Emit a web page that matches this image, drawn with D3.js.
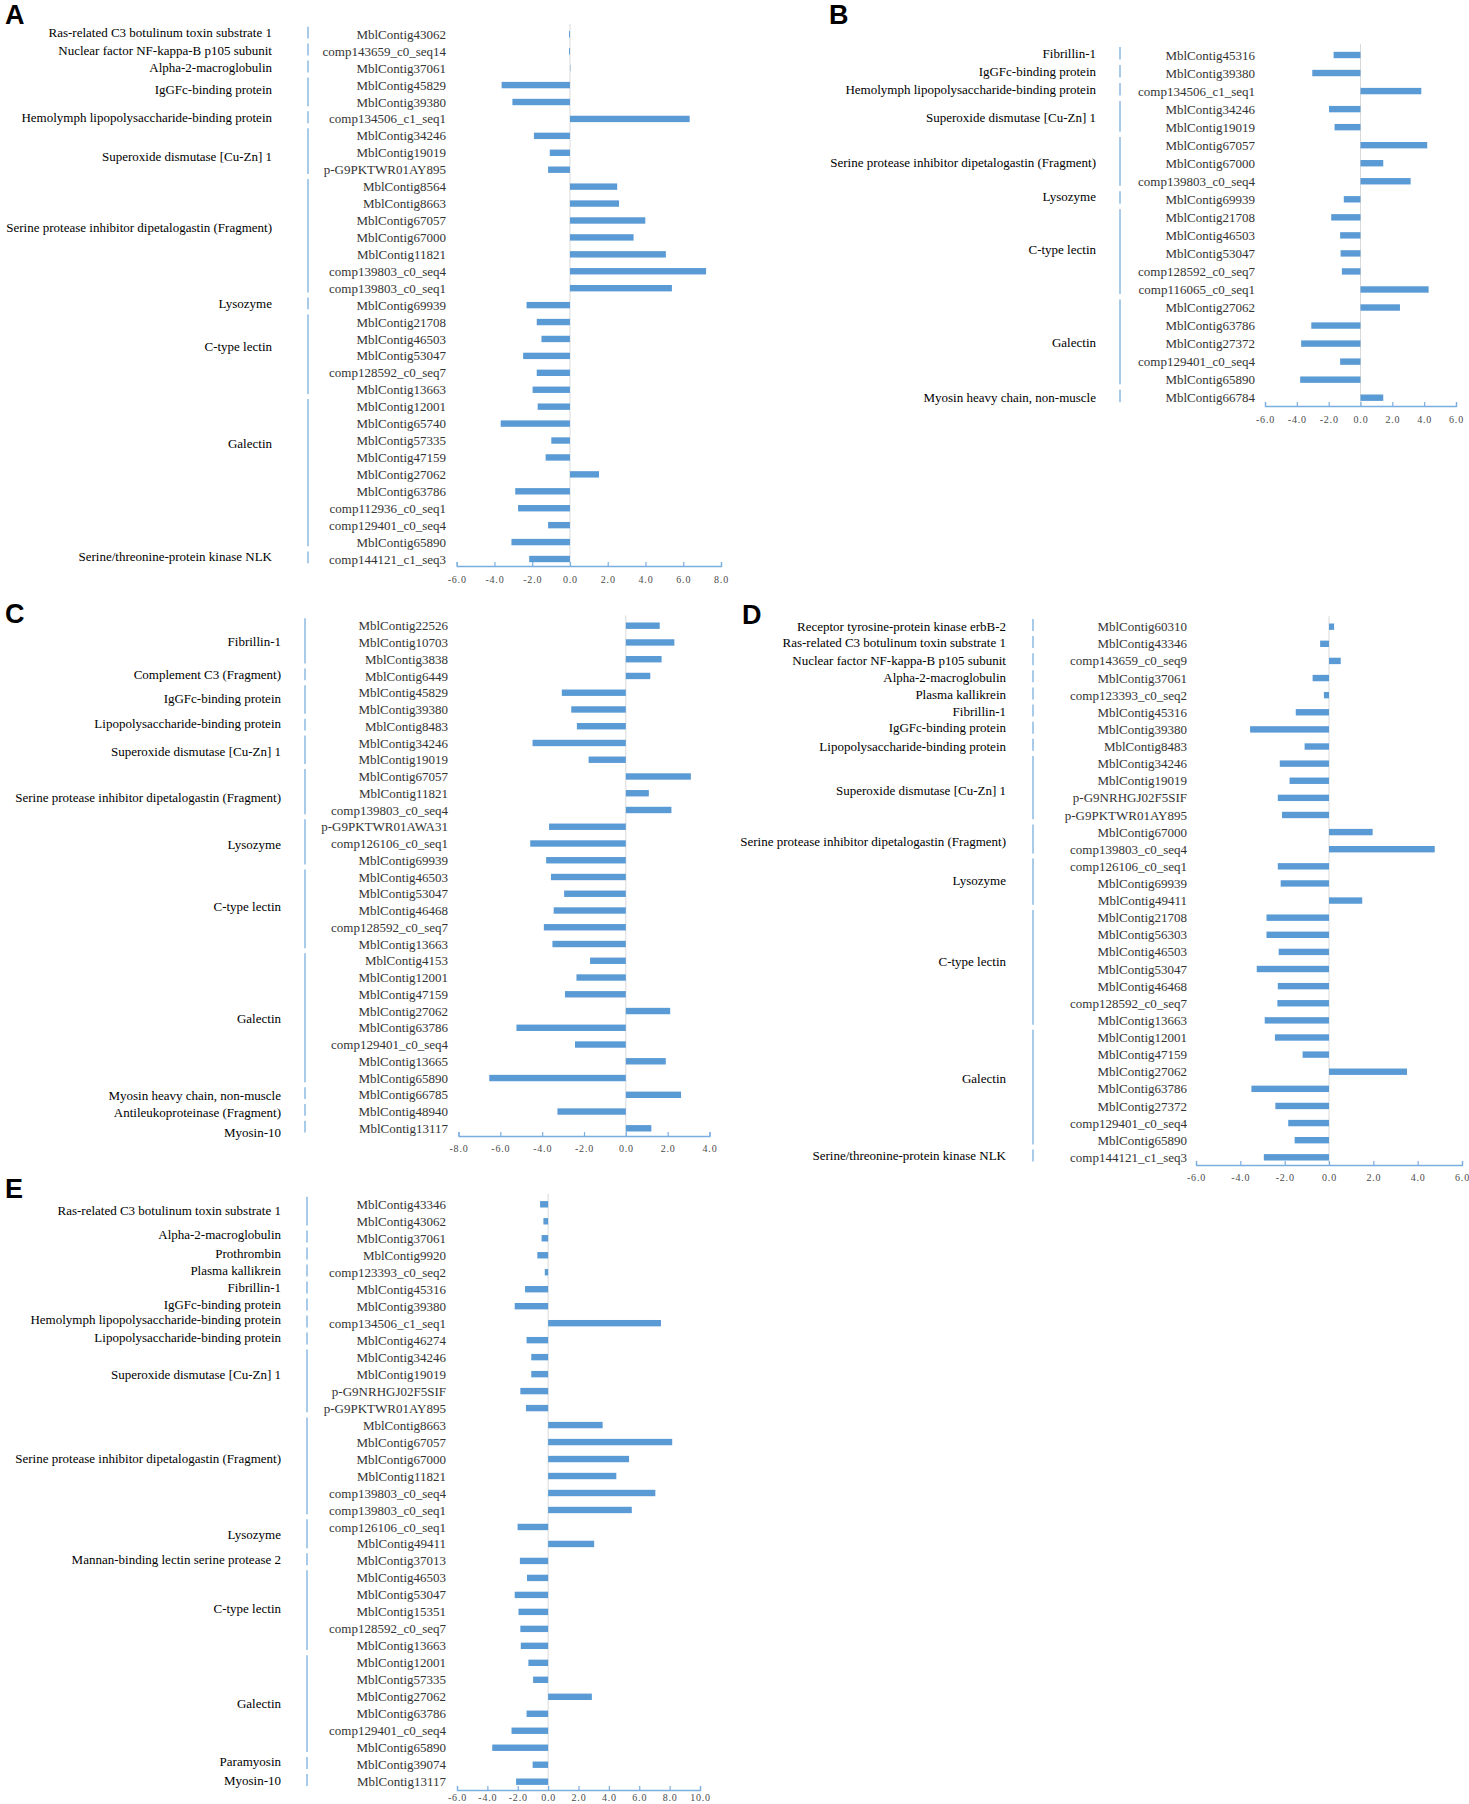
<!DOCTYPE html>
<html>
<head>
<meta charset="utf-8">
<script src="https://cdn.jsdelivr.net/npm/d3@7"></script>
<style>
  body { margin: 0; background: #fff; }
  text { font-family: "Liberation Serif", "Times New Roman", serif; }
  .letter { font-family: "Liberation Sans", Arial, sans-serif; font-weight: bold; }
</style>
</head>
<body>
<div id="chart"></div>
<script>
// ---- panel A data ----
var aCategories = ["Ras-related C3 botulinum toxin substrate 1", "Nuclear factor NF-kappa-B p105 subunit",
  "Alpha-2-macroglobulin", "IgGFc-binding protein", "Hemolymph lipopolysaccharide-binding protein",
  "Superoxide dismutase [Cu-Zn] 1", "Serine protease inhibitor dipetalogastin (Fragment)", "Lysozyme",
  "C-type lectin", "Galectin", "Serine/threonine-protein kinase NLK"];
var aGroupSizes = [1, 1, 1, 2, 1, 3, 7, 1, 5, 9, 1];
var aGenes = ["MblContig43062", "comp143659_c0_seq14", "MblContig37061", "MblContig45829", "MblContig39380",
  "comp134506_c1_seq1", "MblContig34246", "MblContig19019", "p-G9PKTWR01AY895", "MblContig8564",
  "MblContig8663", "MblContig67057", "MblContig67000", "MblContig11821", "comp139803_c0_seq4",
  "comp139803_c0_seq1", "MblContig69939", "MblContig21708", "MblContig46503", "MblContig53047",
  "comp128592_c0_seq7", "MblContig13663", "MblContig12001", "MblContig65740", "MblContig57335",
  "MblContig47159", "MblContig27062", "MblContig63786", "comp112936_c0_seq1", "comp129401_c0_seq4",
  "MblContig65890", "comp144121_c1_seq3"];
var aValues = [-0.05, -0.05, 0.02, -3.62, -3.05, 6.34, -1.91, -1.07, -1.16, 2.50, 2.60, 3.99, 3.37, 5.08,
  7.21, 5.40, -2.30, -1.76, -1.51, -2.48, -1.76, -1.98, -1.71, -3.67, -0.99, -1.29, 1.54, -2.90, -2.75,
  -1.16, -3.10, -2.16];
var aTicks = [-6, -4, -2, 0, 2, 4, 6, 8];

// ---- panel B data ----
var bCategories = ["Fibrillin-1", "IgGFc-binding protein", "Hemolymph lipopolysaccharide-binding protein",
  "Superoxide dismutase [Cu-Zn] 1", "Serine protease inhibitor dipetalogastin (Fragment)", "Lysozyme",
  "C-type lectin", "Galectin", "Myosin heavy chain, non-muscle"];
var bGroupSizes = [1, 1, 1, 2, 3, 1, 5, 5, 1];
var bGenes = ["MblContig45316", "MblContig39380", "comp134506_c1_seq1", "MblContig34246", "MblContig19019",
  "MblContig67057", "MblContig67000", "comp139803_c0_seq4", "MblContig69939", "MblContig21708",
  "MblContig46503", "MblContig53047", "comp128592_c0_seq7", "comp116065_c0_seq1", "MblContig27062",
  "MblContig63786", "MblContig27372", "comp129401_c0_seq4", "MblContig65890", "MblContig66784"];
var bValues = [-1.69, -3.03, 3.82, -1.98, -1.63, 4.19, 1.43, 3.15, -1.05, -1.84, -1.28, -1.25, -1.17,
  4.28, 2.48, -3.09, -3.73, -1.28, -3.79, 1.43];
var bTicks = [-6, -4, -2, 0, 2, 4, 6];

// ---- panel C data ----
var cCategories = ["Fibrillin-1", "Complement C3 (Fragment)", "IgGFc-binding protein",
  "Lipopolysaccharide-binding protein", "Superoxide dismutase [Cu-Zn] 1",
  "Serine protease inhibitor dipetalogastin (Fragment)", "Lysozyme", "C-type lectin", "Galectin",
  "Myosin heavy chain, non-muscle", "Antileukoproteinase (Fragment)", "Myosin-10"];
var cGroupSizes = [3, 1, 2, 1, 2, 3, 3, 5, 8, 1, 1, 1];
var cGenes = ["MblContig22526", "MblContig10703", "MblContig3838", "MblContig6449", "MblContig45829",
  "MblContig39380", "MblContig8483", "MblContig34246", "MblContig19019", "MblContig67057",
  "MblContig11821", "comp139803_c0_seq4", "p-G9PKTWR01AWA31", "comp126106_c0_seq1", "MblContig69939",
  "MblContig46503", "MblContig53047", "MblContig46468", "comp128592_c0_seq7", "MblContig13663",
  "MblContig4153", "MblContig12001", "MblContig47159", "MblContig27062", "MblContig63786",
  "comp129401_c0_seq4", "MblContig13665", "MblContig65890", "MblContig66785", "MblContig48940",
  "MblContig13117"];
var cValues = [1.62, 2.32, 1.71, 1.17, -3.06, -2.61, -2.34, -4.46, -1.78, 3.11, 1.10, 2.18, -3.67, -4.57,
  -3.81, -3.58, -2.95, -3.45, -3.92, -3.51, -1.71, -2.36, -2.91, 2.12, -5.23, -2.43, 1.91, -6.53, 2.64,
  -3.27, 1.22];
var cTicks = [-8, -6, -4, -2, 0, 2, 4];

// ---- panel D data ----
var dCategories = ["Receptor tyrosine-protein kinase erbB-2", "Ras-related C3 botulinum toxin substrate 1",
  "Nuclear factor NF-kappa-B p105 subunit", "Alpha-2-macroglobulin", "Plasma kallikrein", "Fibrillin-1",
  "IgGFc-binding protein", "Lipopolysaccharide-binding protein", "Superoxide dismutase [Cu-Zn] 1",
  "Serine protease inhibitor dipetalogastin (Fragment)", "Lysozyme", "C-type lectin", "Galectin",
  "Serine/threonine-protein kinase NLK"];
var dGroupSizes = [1, 1, 1, 1, 1, 1, 1, 1, 4, 2, 3, 7, 7, 1];
var dGenes = ["MblContig60310", "MblContig43346", "comp143659_c0_seq9", "MblContig37061",
  "comp123393_c0_seq2", "MblContig45316", "MblContig39380", "MblContig8483", "MblContig34246",
  "MblContig19019", "p-G9NRHGJ02F5SIF", "p-G9PKTWR01AY895", "MblContig67000", "comp139803_c0_seq4",
  "comp126106_c0_seq1", "MblContig69939", "MblContig49411", "MblContig21708", "MblContig56303",
  "MblContig46503", "MblContig53047", "MblContig46468", "comp128592_c0_seq7", "MblContig13663",
  "MblContig12001", "MblContig47159", "MblContig27062", "MblContig63786", "MblContig27372",
  "comp129401_c0_seq4", "MblContig65890", "comp144121_c1_seq3"];
var dValues = [0.23, -0.40, 0.53, -0.74, -0.23, -1.50, -3.56, -1.10, -2.22, -1.78, -2.31, -2.12, 1.97,
  4.77, -2.31, -2.18, 1.50, -2.82, -2.82, -2.27, -3.26, -2.31, -2.33, -2.90, -2.44, -1.19, 3.52, -3.50,
  -2.42, -1.84, -1.55, -2.94];
var dTicks = [-6, -4, -2, 0, 2, 4, 6];

// ---- panel E data ----
var eCategories = ["Ras-related C3 botulinum toxin substrate 1", "Alpha-2-macroglobulin", "Prothrombin",
  "Plasma kallikrein", "Fibrillin-1", "IgGFc-binding protein", "Hemolymph lipopolysaccharide-binding protein",
  "Lipopolysaccharide-binding protein", "Superoxide dismutase [Cu-Zn] 1",
  "Serine protease inhibitor dipetalogastin (Fragment)", "Lysozyme", "Mannan-binding lectin serine protease 2",
  "C-type lectin", "Galectin", "Paramyosin", "Myosin-10"];
var eGroupSizes = [2, 1, 1, 1, 1, 1, 1, 1, 4, 6, 2, 1, 5, 6, 1, 1];
var eGenes = ["MblContig43346", "MblContig43062", "MblContig37061", "MblContig9920", "comp123393_c0_seq2",
  "MblContig45316", "MblContig39380", "comp134506_c1_seq1", "MblContig46274", "MblContig34246",
  "MblContig19019", "p-G9NRHGJ02F5SIF", "p-G9PKTWR01AY895", "MblContig8663", "MblContig67057",
  "MblContig67000", "MblContig11821", "comp139803_c0_seq4", "comp139803_c0_seq1", "comp126106_c0_seq1",
  "MblContig49411", "MblContig37013", "MblContig46503", "MblContig53047", "MblContig15351",
  "comp128592_c0_seq7", "MblContig13663", "MblContig12001", "MblContig57335", "MblContig27062",
  "MblContig63786", "comp129401_c0_seq4", "MblContig65890", "MblContig39074", "MblContig13117"];
var eValues = [-0.53, -0.31, -0.43, -0.71, -0.22, -1.52, -2.20, 7.43, -1.42, -1.11, -1.11, -1.83, -1.46,
  3.59, 8.17, 5.33, 4.49, 7.06, 5.51, -2.01, 3.03, -1.86, -1.39, -2.20, -1.95, -1.83, -1.80, -1.30,
  -0.99, 2.88, -1.42, -2.41, -3.68, -1.02, -2.11];
var eTicks = [-6, -4, -2, 0, 2, 4, 6, 8, 10];

// colours
var barColor = "#5b9bd5";
var sepColor = "#6fa8dc";
var axisColor = "#7aaee0";

var width = 1469, height = 1804;

var svg = d3.select("#chart").append("svg")
  .attr("width", width)
  .attr("height", height);

// layout of each panel (pixel positions on the page); nudge = small vertical shifts of group labels
var panels = [
  { letter: "A", lx: 5, ly: 24, cats: aCategories, sizes: aGroupSizes, genes: aGenes, values: aValues, ticks: aTicks,
    catRight: 272, sepX: 308, geneRight: 446, xRange: [456.7, 721], top: 34.3, bottom: 559, axisY: 566, pad: 10,
    nudge: [0, 1, 1, -2, 1, 6, -8, 0, -7, -29, -1] },
  { letter: "B", lx: 829, ly: 24, cats: bCategories, sizes: bGroupSizes, genes: bGenes, values: bValues, ticks: bTicks,
    catRight: 1096, sepX: 1120, geneRight: 1255, xRange: [1265, 1456], top: 55, bottom: 397.7, axisY: 406, pad: 10,
    nudge: [0, 0, 0, 1, 1, -1, -2, 1, 2] },
  { letter: "C", lx: 5, ly: 623, cats: cCategories, sizes: cGroupSizes, genes: cGenes, values: cValues, ticks: cTicks,
    catRight: 281, sepX: 305, geneRight: 448, xRange: [458.5, 709.5], top: 625.7, bottom: 1128.3, axisY: 1136, pad: 9,
    nudge: [1, 0, -1, -1, 2, 6, 3, -2, 1, 3, 3, 6] },
  { letter: "D", lx: 742, ly: 624, cats: dCategories, sizes: dGroupSizes, genes: dGenes, values: dValues, ticks: dTicks,
    catRight: 1006, sepX: 1033, geneRight: 1187, xRange: [1196, 1462], top: 626.7, bottom: 1157.3, axisY: 1165, pad: 9,
    nudge: [2, 1, 2, 1, 1, 1, 0, 2, 3, 3, -1, -6, -8, 0] },
  { letter: "E", lx: 5, ly: 1198, cats: eCategories, sizes: eGroupSizes, genes: eGenes, values: eValues, ticks: eTicks,
    catRight: 281, sepX: 307, geneRight: 446, xRange: [457, 700], top: 1204.3, bottom: 1781.7, axisY: 1790, pad: 4,
    nudge: [0, -2, 0, 0, 0, 0, -2, -1, -6, -7, 1, 1, -1, 0, -1, 1] }
];

panels.forEach(function(p) {
  var n = p.genes.length;
  var step = (p.bottom - p.top) / (n - 1);
  var idx = d3.range(n);

  var x = d3.scaleLinear()
    .domain([p.ticks[0], p.ticks[p.ticks.length - 1]])
    .range(p.xRange);

  var y = d3.scaleBand()
    .domain(idx)
    .range([p.top - step / 2, p.bottom + step / 2]);
  var cy = function(i) { return y(i) + y.bandwidth() / 2; };

  var g = svg.append("g");

  // panel letter
  g.append("text")
    .attr("class", "letter")
    .attr("x", p.lx)
    .attr("y", p.ly)
    .attr("font-size", 27)
    .text(p.letter);

  // light zero line
  g.append("line")
    .attr("x1", x(0)).attr("x2", x(0))
    .attr("y1", y(0) - 2).attr("y2", p.axisY)
    .attr("stroke", "#d9d9d9")
    .attr("stroke-width", 1);

  // bars
  g.selectAll(".bar")
    .data(idx)
    .enter().append("rect")
    .attr("class", "bar")
    .attr("x", function(i) { return x(Math.min(0, p.values[i])); })
    .attr("width", function(i) { return Math.abs(x(p.values[i]) - x(0)); })
    .attr("y", function(i) { return cy(i) - 3.2; })
    .attr("height", 6.4)
    .attr("fill", barColor);

  // gene labels
  g.selectAll(".gene")
    .data(idx)
    .enter().append("text")
    .attr("class", "gene")
    .attr("x", p.geneRight)
    .attr("y", function(i) { return cy(i); })
    .attr("dy", "0.35em")
    .attr("text-anchor", "end")
    .attr("font-size", 13)
    .attr("fill", "#333")
    .text(function(i) { return p.genes[i]; });

  // category groups: separator line + label
  var start = 0;
  var groups = p.cats.map(function(c, k) {
    var gr = { name: c, first: start, last: start + p.sizes[k] - 1, shift: p.nudge[k] || 0 };
    start += p.sizes[k];
    return gr;
  });

  g.selectAll(".sep")
    .data(groups)
    .enter().append("line")
    .attr("class", "sep")
    .attr("x1", p.sepX).attr("x2", p.sepX)
    .attr("y1", function(d) { return cy(d.first) - step * 0.45; })
    .attr("y2", function(d) { return cy(d.last) + step * 0.25; })
    .attr("stroke", sepColor)
    .attr("stroke-width", 1.2);

  g.selectAll(".cat")
    .data(groups)
    .enter().append("text")
    .attr("class", "cat")
    .attr("x", p.catRight)
    .attr("y", function(d) { return (cy(d.first) + cy(d.last)) / 2 - 2 + d.shift; })
    .attr("dy", "0.35em")
    .attr("text-anchor", "end")
    .attr("font-size", 13)
    .attr("fill", "#000")
    .text(function(d) { return d.name; });

  // x axis
  var axis = d3.axisBottom(x)
    .tickValues(p.ticks)
    .tickSize(-4)
    .tickPadding(p.pad)
    .tickFormat(function(d) { return d.toFixed(1); });

  var ax = g.append("g")
    .attr("transform", "translate(0," + p.axisY + ")")
    .call(axis);
  ax.select(".domain").attr("stroke", axisColor).attr("stroke-width", 1.3);
  ax.selectAll(".tick line").attr("stroke", axisColor).attr("stroke-width", 1.2);
  ax.selectAll(".tick text")
    .attr("fill", "#4a4a4a")
    .attr("font-size", 10)
    .attr("font-family", "Liberation Serif")
    .attr("letter-spacing", "0.8px");
});
</script>
</body>
</html>
